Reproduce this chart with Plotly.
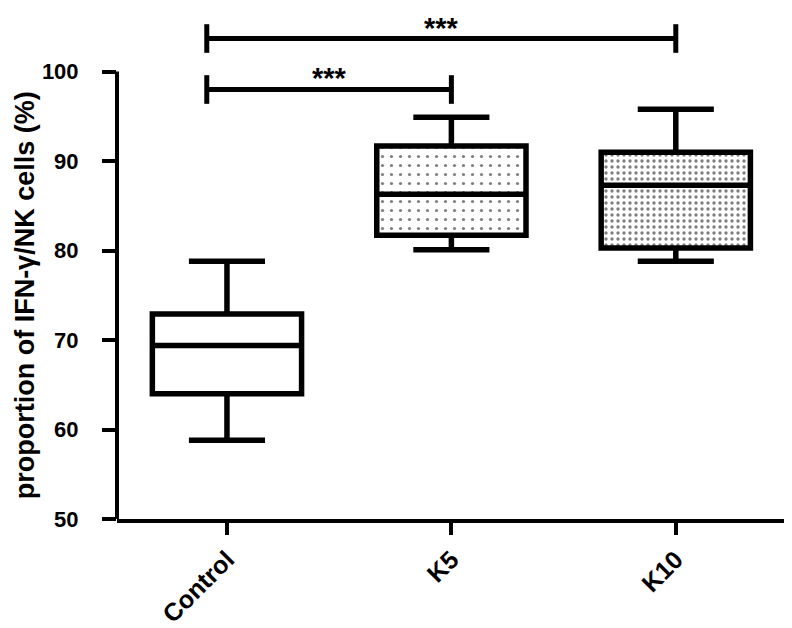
import plotly.graph_objects as go

categories = ["Control", "K5", "K10"]
lower_whisker = [58.8, 80.1, 78.8]
q1_values = [64.0, 81.7, 80.3]
median_values = [69.4, 86.3, 87.3]
q3_values = [72.9, 91.7, 91.0]
upper_whisker = [78.8, 94.9, 95.8]
pattern_shapes = ["", ".", "."]
pattern_sizes = [9, 9, 6]
pattern_solidity = [0.0, 0.1, 0.25]

y_ticks = [50, 60, 70, 80, 90, 100]
y_title = "proportion of IFN-γ/NK cells (%)"
comparisons = [("Control", "K5"), ("Control", "K10")]
comparison_heights = [98.0, 103.7]
comparison_labels = ["***", "***"]
label_offsets = [1.3, 1.2]

BOX_W = 0.665
FONT = "Liberation Sans, Arial, sans-serif"

fig = go.Figure()

# patterned fills
fig.add_trace(go.Bar(
    x=categories,
    y=[q3 - q1 for q1, q3 in zip(q1_values, q3_values)],
    base=q1_values,
    width=BOX_W,
    marker=dict(
        color="white",
        line=dict(width=0),
        pattern=dict(shape=pattern_shapes, size=pattern_sizes,
                     solidity=pattern_solidity, fgcolor="black",
                     bgcolor="white", fillmode="overlay"),
    ),
    showlegend=False, hoverinfo="skip",
))

fig.add_trace(go.Box(
    x=categories,
    q1=q1_values, median=median_values, q3=q3_values,
    lowerfence=lower_whisker, upperfence=upper_whisker,
    width=BOX_W,
    whiskerwidth=0.51,
    fillcolor="rgba(0,0,0,0)",
    line=dict(color="black", width=5.5),
    showlegend=False,
))

idx = {c: i for i, c in enumerate(categories)}
shapes = []
annotations = []
for (a, b), h, lab, off in zip(comparisons, comparison_heights, comparison_labels, label_offsets):
    x0 = idx[a] - 0.09
    x1 = idx[b]
    shapes.append(dict(type="line", xref="x", yref="y", x0=x0, x1=x1, y0=h, y1=h,
                       line=dict(color="black", width=5)))
    for xx in (x0, x1):
        shapes.append(dict(type="line", xref="x", yref="y", x0=xx, x1=xx,
                           y0=h - 1.6, y1=h + 1.6,
                           line=dict(color="black", width=5)))
    annotations.append(dict(x=(x0 + x1) / 2, y=h + off, xref="x", yref="y",
                            text="<b>" + lab + "</b>", showarrow=False,
                            yanchor="middle",
                            font=dict(family=FONT, size=29, color="black")))

# y-axis title centred on the 50-100 axis line
annotations.append(dict(x=0, xref="paper", xshift=-92, xanchor="center",
                        y=(y_ticks[0] + y_ticks[-1]) / 2, yref="y", yanchor="middle",
                        text="<b>" + y_title + "</b>", textangle=-90, showarrow=False,
                        font=dict(family=FONT, size=27, color="black")))

# y axis line from 50 to 100
shapes.append(dict(type="line", xref="paper", yref="y", x0=0, x1=0,
                   y0=y_ticks[0], y1=y_ticks[-1],
                   line=dict(color="black", width=4)))

fig.update_layout(
    width=784, height=620,
    margin=dict(l=109, r=4, t=0, b=106),
    paper_bgcolor="white", plot_bgcolor="white",
    barmode="overlay", boxmode="overlay",
    shapes=shapes, annotations=annotations,
    font=dict(family=FONT, color="black"),
    xaxis=dict(
        type="category", range=[-0.49, 2.5],
        showline=True, linecolor="black", linewidth=4,
        ticks="outside", ticklen=12, tickwidth=4, tickcolor="black",
        tickangle=-45, showgrid=False, zeroline=False,
        tickfont=dict(family=FONT, size=25, color="black", weight="bold"),
    ),
    yaxis=dict(
        range=[50, 107.11], tickvals=y_ticks, ticktext=[str(t) for t in y_ticks],
        showline=False, showgrid=False, zeroline=False,
        ticks="outside", ticklen=14, tickwidth=4, tickcolor="black",
        ticklabelstandoff=19,
        tickfont=dict(family=FONT, size=22, color="black", weight="bold"),
    ),
)

fig.write_html("out.html")
